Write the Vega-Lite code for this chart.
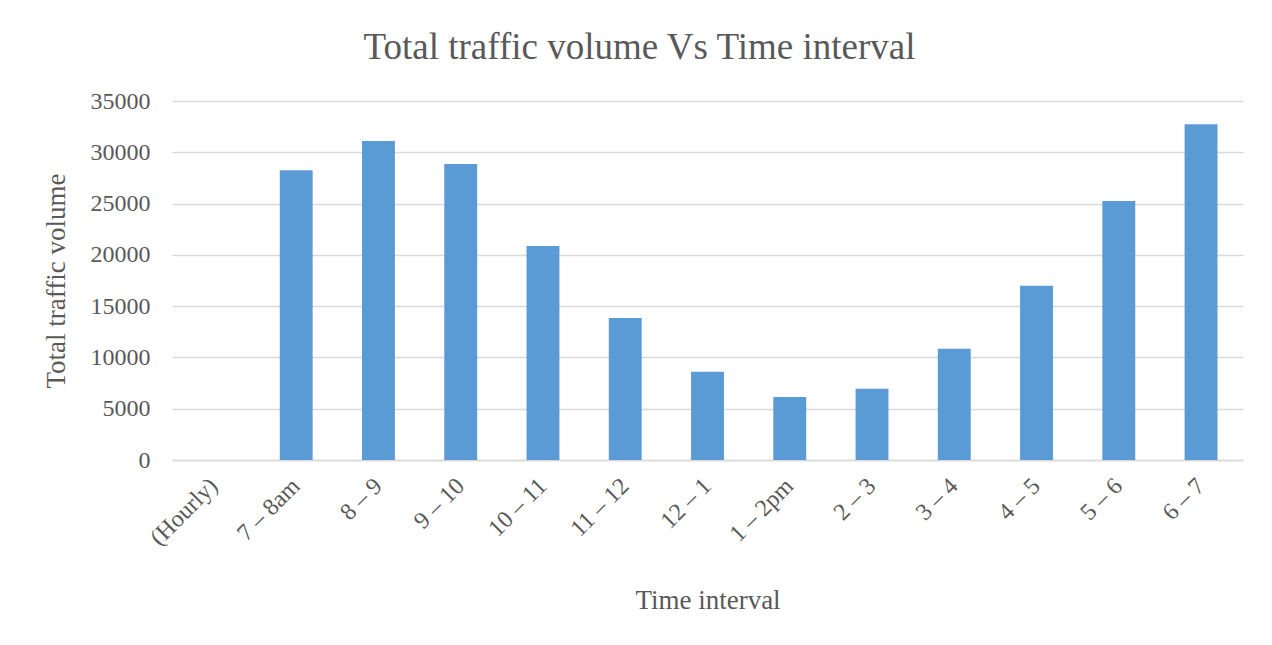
{
  "$schema": "https://vega.github.io/schema/vega-lite/v6.json",
  "width": 1071,
  "height": 359,
  "autosize": {"type": "none"},
  "padding": {"left": 172, "top": 101, "right": 29, "bottom": 185},
  "background": "white",
  "title": {
    "text": "Total traffic volume Vs Time interval",
    "font": "Liberation Serif",
    "fontSize": 37,
    "fontWeight": "normal",
    "color": "#595959",
    "anchor": "middle",
    "dx": -68,
    "offset": 22
  },
  "data": {
    "values": [
      {"interval": "(Hourly)", "volume": 0},
      {"interval": "7 – 8am", "volume": 28250},
      {"interval": "8 – 9", "volume": 31100},
      {"interval": "9 – 10", "volume": 28850},
      {"interval": "10 – 11", "volume": 20870},
      {"interval": "11 – 12", "volume": 13850},
      {"interval": "12 – 1", "volume": 8600},
      {"interval": "1 – 2pm", "volume": 6150},
      {"interval": "2 – 3", "volume": 6950},
      {"interval": "3 – 4", "volume": 10850},
      {"interval": "4 – 5", "volume": 16980},
      {"interval": "5 – 6", "volume": 25250},
      {"interval": "6 – 7", "volume": 32730}
    ]
  },
  "mark": {"type": "bar", "color": "#5b9bd5"},
  "encoding": {
    "x": {
      "field": "interval",
      "type": "nominal",
      "sort": null,
      "scale": {"paddingInner": 0.6, "paddingOuter": 0.31},
      "axis": {
        "title": "Time interval",
        "titleFont": "Liberation Serif",
        "titleFontSize": 27,
        "titleFontWeight": "normal",
        "titleColor": "#595959",
        "titlePadding": 38,
        "labelFont": "Liberation Serif",
        "labelFontSize": 24,
        "labelColor": "#595959",
        "labelAngle": -45,
        "labelAlign": "right",
        "labelBaseline": "middle",
        "labelPadding": 22,
        "ticks": false,
        "domainColor": "#d9d9d9",
        "domainWidth": 1.5
      }
    },
    "y": {
      "field": "volume",
      "type": "quantitative",
      "scale": {"domain": [0, 35000]},
      "axis": {
        "title": "Total traffic volume",
        "titleFont": "Liberation Serif",
        "titleFontSize": 27,
        "titleFontWeight": "normal",
        "titleColor": "#595959",
        "titlePadding": 20,
        "values": [0, 5000, 10000, 15000, 20000, 25000, 30000, 35000],
        "format": "d",
        "labelFont": "Liberation Serif",
        "labelFontSize": 24,
        "labelColor": "#595959",
        "labelPadding": 22,
        "ticks": false,
        "domain": false,
        "gridColor": "#d9d9d9",
        "gridWidth": 1.5
      }
    }
  },
  "config": {"view": {"stroke": null}}
}
